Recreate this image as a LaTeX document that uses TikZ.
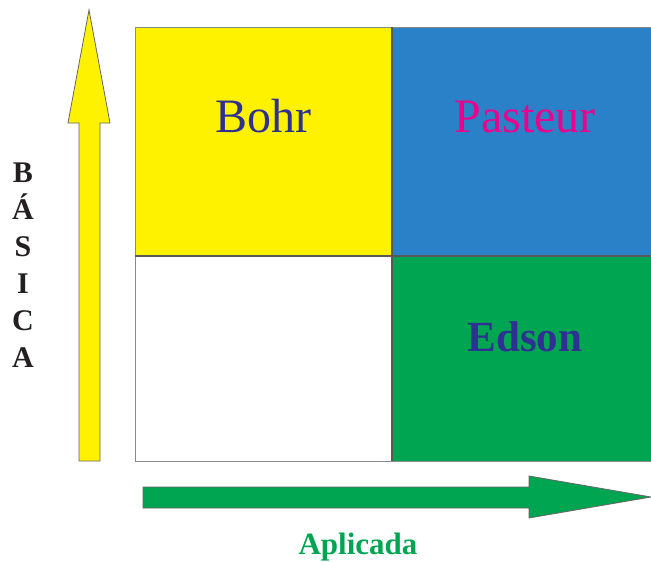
\documentclass[tikz,border=0pt]{standalone}
\usepackage{fontspec}
\setmainfont{Liberation Serif}
\definecolor{cyel}{HTML}{FFF200}
\definecolor{cblue}{HTML}{2A81C8}
\definecolor{cgreen}{HTML}{00A551}
\definecolor{cnavy}{HTML}{2E3192}
\definecolor{cmag}{HTML}{EC008C}
\definecolor{cdark}{HTML}{231F20}
\definecolor{cline}{HTML}{8A8A8A}
\tikzset{
  cell/.style={draw=cline, line width=1pt},
  midline/.style={draw=black!65, line width=1.2pt},
  arrowshape/.style={draw=black!60, line width=0.8pt, line join=miter},
  celltext/.style={anchor=base, inner sep=0pt, font=\fontsize{48}{50}\selectfont},
}
\begin{document}
\begin{tikzpicture}[x=1pt,y=-1pt]
\useasboundingbox (0,0) rectangle (651,562);
\fill[white] (0,0) rectangle (651,562);
% cells
\fill[cyel] (135,27) rectangle (392,256);
\fill[cblue] (392,27) rectangle (651,256);
\fill[white] (135,256) rectangle (392,461);
\fill[cgreen] (392,256) rectangle (651,461);
\draw[cell] (651,27) -- (135,27) -- (135,461) -- (651,461);
\draw[midline] (392,27) -- (392,461);
\draw[midline] (135,256) -- (651,256);
% vertical yellow arrow
\draw[arrowshape, fill=cyel] (79,461) -- (79,123) -- (68,123) -- (89,10) -- (110,123) -- (100,123) -- (100,461) -- cycle;
% horizontal green arrow
\draw[arrowshape, fill=cgreen] (143,487) -- (529,487) -- (529,476) -- (651,497) -- (529,518) -- (529,508) -- (143,508) -- cycle;
% texts
\node[celltext, text=cnavy] (bohr) at (263,132) {Bohr};
\node[celltext, text=cmag] (pasteur) at (525,132) {Pasteur};
\node[anchor=base, inner sep=0pt, text=cnavy, font=\fontsize{43}{45}\selectfont\bfseries] (edson) at (525,351) {Edson};
\node[anchor=base, inner sep=0pt, text=cgreen, font=\fontsize{31}{33}\selectfont\bfseries] (aplicada) at (358,554) {Aplicada};
\foreach \l [count=\i from 0] in {B,Á,S,I,C,A} {
  \node[anchor=base, inner sep=0pt, text=cdark, font=\fontsize{30}{32}\selectfont\bfseries] (bas\i) at (23,182+37*\i) {\l};
}
\end{tikzpicture}
\end{document}
